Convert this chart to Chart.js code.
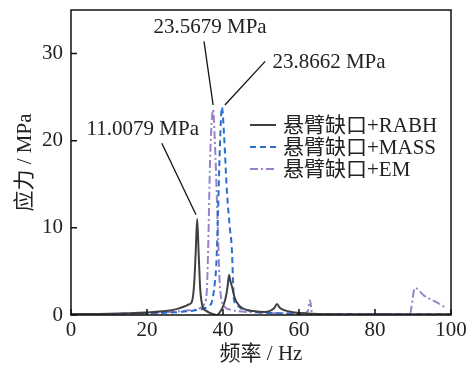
<!DOCTYPE html>
<html>
<head>
<meta charset="utf-8">
<script src="https://cdn.jsdelivr.net/npm/chart.js@4"></script>
<style>
  html, body { margin: 0; padding: 0; background: #fff; }
  #wrap { width: 469px; height: 365px; }
</style>
</head>
<body>
<div id="wrap"><canvas id="c" width="469" height="365"></canvas></div>
<script>
// ---- data ----
const seriesNames = ['悬臂缺口+RABH', '悬臂缺口+MASS', '悬臂缺口+EM'];

const rabhHz  = [0, 10, 20, 25, 28, 30, 31, 31.8, 32.4, 32.8, 33.2, 33.6, 34.0, 34.7, 35.5, 36.5, 37.5, 38.4, 39.3, 40.2, 40.9, 41.3, 41.6, 41.9, 42.4, 43.0, 43.7, 45, 48, 51, 52.5, 53.5, 54.2, 55, 56.5, 58, 59.5, 65, 80, 100];
const rabhVal = [0.1, 0.15, 0.3, 0.45, 0.7, 1.0, 1.2, 1.5, 3.5, 7.0, 11.0079, 7.0, 3.0, 0.9, 0.5, 0.25, 0.1, 0.0, 0.4, 1.2, 2.4, 3.6, 4.6, 4.0, 3.2, 2.1, 1.4, 0.8, 0.45, 0.35, 0.5, 0.8, 1.26, 0.8, 0.5, 0.35, 0.25, 0.12, 0.08, 0.08];

const massHz  = [0, 10, 20, 25, 28.7, 32, 35.3, 36.3, 37.0, 37.8, 38.3, 38.7, 39.2, 39.7, 40.3, 41.0, 41.8, 42.3, 42.9, 44, 45, 47, 50, 55, 60, 80, 100];
const massVal = [0.1, 0.12, 0.18, 0.25, 0.35, 0.5, 0.8, 1.1, 1.4, 3.5, 6.3, 12.0, 19.5, 23.8662, 20.5, 14.4, 10.0, 7.8, 1.7, 1.0, 0.7, 0.5, 0.3, 0.2, 0.12, 0.1, 0.1];

const emHz  = [0, 10, 20, 25, 30, 34.0, 35.0, 35.7, 36.1, 36.6, 37.0, 37.4, 37.8, 38.2, 38.7, 39.2, 40.5, 42, 45, 50, 55, 60, 62.3, 62.9, 63.4, 64.5, 70, 80, 88, 89.2, 90.5, 93, 96, 98.4];
const emVal = [0.1, 0.12, 0.2, 0.3, 0.5, 0.8, 1.2, 2.5, 7.8, 17.8, 22.0, 23.5679, 20.5, 15.9, 9.0, 3.2, 0.9, 0.6, 0.4, 0.25, 0.2, 0.15, 0.4, 1.7, 0.3, 0.12, 0.1, 0.1, 0.12, 0.2, 3.1, 2.2, 1.5, 0.9];

const xTicks = [0, 20, 40, 60, 80, 100];
const yTicks = [0, 10, 20, 30];

// annotation labels: text, text anchor, line start, line end (data units)
const annoText  = ['11.0079 MPa', '23.5679 MPa', '23.8662 MPa'];
const annoTextX = [18.9, 36.6, 67.9];
const annoTextY = [21.3, 33.0, 29.0];
const annoFromX = [23.9, 35.0, 51.1];
const annoFromY = [19.7, 31.4, 29.1];
const annoToX   = [32.9, 37.4, 40.5];
const annoToY   = [11.5, 24.1, 24.1];

const SERIF = '"Liberation Serif", "Noto Sans CJK SC", serif';
const FS = 21;
const toPts = (xs, ys) => xs.map((x, i) => ({ x: x, y: ys[i] }));

// ---- custom drawing: frame, inward ticks, annotations, legend ----
const decorPlugin = {
  id: 'decor',
  afterDatasetsDraw(chart) {
    const { ctx, chartArea: a, scales } = chart;
    const xs = scales.x, ys = scales.y;
    ctx.save();
    ctx.strokeStyle = '#111';
    ctx.lineWidth = 1.5;
    ctx.strokeRect(a.left, a.top, a.right - a.left, a.bottom - a.top);

    // inward ticks
    ctx.beginPath();
    xTicks.forEach(v => {
      const px = xs.getPixelForValue(v);
      ctx.moveTo(px, a.bottom); ctx.lineTo(px, a.bottom - 6);
    });
    yTicks.forEach(v => {
      const py = ys.getPixelForValue(v);
      ctx.moveTo(a.left, py); ctx.lineTo(a.left + 6, py);
    });
    ctx.stroke();

    // annotations
    ctx.fillStyle = '#222';
    ctx.font = FS + 'px ' + SERIF;
    ctx.textAlign = 'center';
    ctx.textBaseline = 'middle';
    ctx.lineWidth = 1.3;
    annoText.forEach((t, i) => {
      ctx.fillText(t, xs.getPixelForValue(annoTextX[i]), ys.getPixelForValue(annoTextY[i]));
      ctx.beginPath();
      ctx.moveTo(xs.getPixelForValue(annoFromX[i]), ys.getPixelForValue(annoFromY[i]));
      ctx.lineTo(xs.getPixelForValue(annoToX[i]), ys.getPixelForValue(annoToY[i]));
      ctx.stroke();
    });

    // legend inside plot
    const lx = a.left + 179, ly = a.top + 115, gap = 22;
    ctx.textAlign = 'left';
    chart.data.datasets.forEach((ds, i) => {
      const y = ly + i * gap;
      ctx.beginPath();
      ctx.strokeStyle = ds.borderColor;
      ctx.lineWidth = 2;
      ctx.setLineDash(ds.borderDash || []);
      ctx.moveTo(lx, y); ctx.lineTo(lx + 26, y);
      ctx.stroke();
      ctx.setLineDash([]);
      ctx.fillStyle = '#222';
      ctx.fillText(ds.label, lx + 33, y + 1);
    });
    ctx.restore();
  }
};

const ctx = document.getElementById('c').getContext('2d');
new Chart(ctx, {
  type: 'line',
  data: {
    datasets: [
      { label: seriesNames[0], data: toPts(rabhHz, rabhVal), borderColor: '#404040', borderWidth: 2, pointRadius: 0, cubicInterpolationMode: 'monotone' },
      { label: seriesNames[1], data: toPts(massHz, massVal), borderColor: '#2a6fcf', borderWidth: 2, borderDash: [6, 4], pointRadius: 0, cubicInterpolationMode: 'monotone' },
      { label: seriesNames[2], data: toPts(emHz, emVal), borderColor: '#9a82c9', borderWidth: 2, borderDash: [8, 3, 2, 3], pointRadius: 0, cubicInterpolationMode: 'monotone' }
    ]
  },
  options: {
    responsive: false,
    animation: false,
    layout: { padding: { top: 10, right: 18, left: 0, bottom: 0 } },
    plugins: { legend: { display: false }, tooltip: { enabled: false } },
    scales: {
      x: {
        type: 'linear', min: 0, max: 100,
        afterBuildTicks: s => { s.ticks = xTicks.map(v => ({ value: v })); },
        afterFit: s => { s.height = 50; s.paddingLeft = 0; s.paddingRight = 0; },
        grid: { display: false, drawTicks: false },
        border: { display: false },
        ticks: { color: '#222', font: { family: SERIF, size: FS, lineHeight: 1 }, padding: 5, maxRotation: 0 },
        title: { display: true, text: '频率 / Hz', color: '#222', font: { family: SERIF, size: FS, lineHeight: 1 }, padding: { top: -3, bottom: 0 } }
      },
      y: {
        type: 'linear', min: 0, max: 35,
        afterBuildTicks: s => { s.ticks = yTicks.map(v => ({ value: v })); },
        afterFit: s => { s.width = 71; s.paddingTop = 0; s.paddingBottom = 0; },
        grid: { display: false, drawTicks: false },
        border: { display: false },
        ticks: { color: '#222', font: { family: SERIF, size: FS }, padding: 8 },
        title: { display: true, text: '应力 / MPa', color: '#222', font: { family: SERIF, size: FS, lineHeight: 1 }, padding: { top: 15, bottom: 0 } }
      }
    }
  },
  plugins: [decorPlugin]
});
</script>
</body>
</html>
